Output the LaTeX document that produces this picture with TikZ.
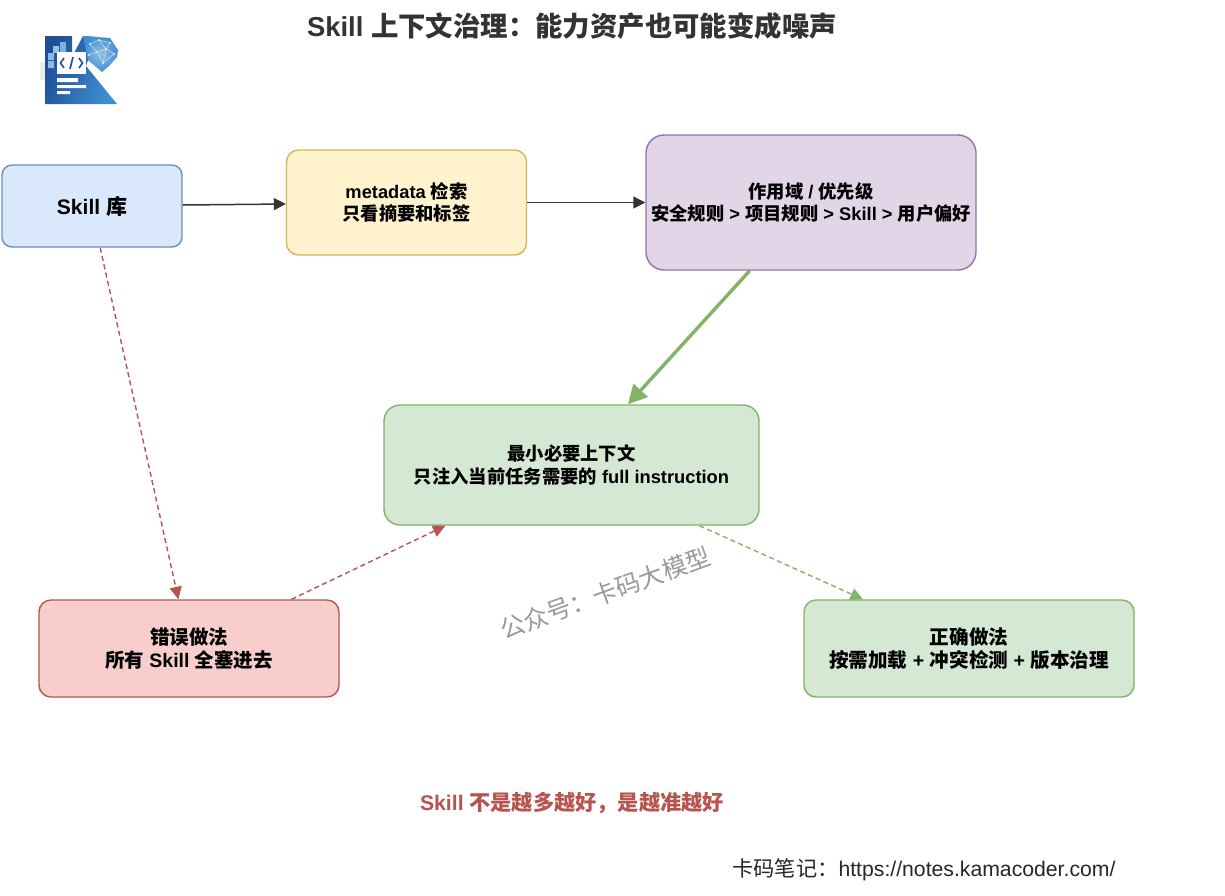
\documentclass[tikz,border=0pt]{standalone}
\usepackage{fontspec}
\setmainfont{Liberation Sans}
\newfontfamily\cjk{Noto Sans CJK SC}
\usetikzlibrary{arrows.meta,calc}
\newcommand{\zh}[1]{{\cjk #1}}
\definecolor{bluefill}{HTML}{DAE8FC}\definecolor{bluedraw}{HTML}{6C8EBF}
\definecolor{yelfill}{HTML}{FFF2CC}\definecolor{yeldraw}{HTML}{D6B656}
\definecolor{purfill}{HTML}{E1D5E7}\definecolor{purdraw}{HTML}{9673A6}
\definecolor{grnfill}{HTML}{D5E8D4}\definecolor{grndraw}{HTML}{82B366}
\definecolor{redfill}{HTML}{F8CECC}\definecolor{reddraw}{HTML}{B85450}
\definecolor{inkc}{HTML}{333333}
\definecolor{logoA}{HTML}{1F4E96}\definecolor{logoB}{HTML}{3F8FD2}
\tikzset{
  card/.style={draw=#1draw,fill=#1fill,line width=1.4pt,rounded corners=12pt,align=center,
    font=\fontsize{18.3}{22.5}\selectfont\bfseries,text=black,inner sep=0pt},
  solidarrow/.style={draw=inkc,line width=1.5pt,-{Triangle[length=12pt,width=12pt]}},
  wrongarrow/.style={draw=reddraw,line width=1.4pt,dash pattern=on 5pt off 3.5pt,-{Triangle[length=12.5pt,width=12pt]}},
  rightarrow/.style={draw=grndraw,line width=1.4pt,dash pattern=on 5pt off 3.5pt,-{Triangle[length=12.5pt,width=12pt]}},
  mainarrow/.style={draw=grndraw,line width=3.4pt,-{Triangle[length=19pt,width=19pt]}},
}
\begin{document}
\begin{tikzpicture}[x=1pt,y=-1pt]
\useasboundingbox (0,0) rectangle (1225,895);
\fill[white] (0,0) rectangle (1225,895);

\node[font=\fontsize{27.4}{30}\selectfont\bfseries,text=inkc] (title) at (572,26) {Skill \zh{上下文治理：能力资产也可能变成噪声}};

% logo
\begin{scope}
\fill[black!8] (40,62) rectangle (45,80);
\shade[left color=logoA,right color=logoB,shading angle=70] (45,36) -- (72,36) -- (72,57) -- (83,36) -- (97,37) -- (88,60) -- (86,66) -- (117,104) -- (45,104) -- cycle;
\fill[logoB!70!white] (60,42) rectangle (66,52);
\fill[logoB!55!white] (53,46) rectangle (59,53);
\fill[logoB!60!white] (48,53) rectangle (54,60) (48,61) rectangle (54,68);
\shade[inner color=logoB!55!white,outer color=logoB] (83,36) -- (97,37) -- (110,38) -- (118,50) -- (117,57) -- (110,65) -- (102,72) -- (88,60) -- cycle;
\foreach \a/\b/\c/\d in {90/44/99/40,99/40/110/43,90/44/97/52,97/52/106/49,106/49/110/43,97/52/103/63,106/49/103/63,97/52/89/55,99/40/106/49,106/49/114/54,103/63/114/54}{
  \draw[white!75!logoB,line width=.5pt] (\a,\b) -- (\c,\d);}
\foreach \a/\b in {90/44,99/40,110/43,97/52,106/49,103/63,89/55,114/54}{\fill[white!85!logoB] (\a,\b) circle (1.2);}
\fill[white] (57,52) rectangle (86,74);
\draw[logoA,line width=1.6pt] (64,58) -- (60.5,63) -- (64,68) (79,58) -- (82.5,63) -- (79,68);
\draw[logoA,line width=1.6pt] (73,57) -- (70,69);
\fill[white] (57,78) rectangle (78,82) (57,85) rectangle (86,88) (57,91) rectangle (70,94);
\end{scope}

\node[card=blue,minimum width=180pt,minimum height=82pt,font=\fontsize{21}{24}\selectfont\bfseries,rounded corners=10pt] (skill) at (92,206) {Skill \zh{库}};
\node[card=yel,minimum width=240pt,minimum height=105pt] (meta) at (406.5,202.5) {metadata \zh{检索}\\\zh{只看摘要和标签}};
\node[card=pur,minimum width=330pt,minimum height=135pt,rounded corners=18pt] (scope) at (811,202.5) {\zh{作用域} / \zh{优先级}\\\zh{安全规则} > \zh{项目规则} > Skill > \zh{用户偏好}};
\node[card=grn,minimum width=375pt,minimum height=120pt,rounded corners=16pt] (ctx) at (571.5,465) {\zh{最小必要上下文}\\\zh{只注入当前任务需要的} full instruction};
\node[card=red,minimum width=300pt,minimum height=97pt,font=\fontsize{19.5}{23.5}\selectfont\bfseries] (wrong) at (189,648.5) {\zh{错误做法}\\\zh{所有} Skill \zh{全塞进去}};
\node[card=grn,minimum width=330pt,minimum height=97pt,font=\fontsize{19.6}{23.5}\selectfont\bfseries] (right) at (969,648.5) {\zh{正确做法}\\\zh{按需加载} + \zh{冲突检测} + \zh{版本治理}};

\draw[solidarrow] (skill.east) ++(0,-1) -- ($(meta.west)+(0,1.5)$);
\draw[solidarrow] (meta.east) -- (scope.west);
\draw[mainarrow] ($(scope.south west)!0.315!(scope.south east)$) -- ($(ctx.north west)!0.65!(ctx.north east)$);
\draw[wrongarrow] ($(skill.south west)!0.545!(skill.south east)$) -- ($(wrong.north west)!0.465!(wrong.north east)$);
\draw[wrongarrow] ($(wrong.north west)!0.84!(wrong.north east)$) -- ($(ctx.south west)!0.165!(ctx.south east)$);
\draw[rightarrow] ($(ctx.south west)!0.84!(ctx.south east)$) -- ($(right.north west)!0.18!(right.north east)$);

\node[font=\fontsize{24.6}{28}\selectfont,text=black!40,rotate=20] (mark) at (605,593) {\zh{公众号：卡码大模型}};
\node[font=\fontsize{21.2}{24}\selectfont\bfseries,text=reddraw] (slogan) at (572,803) {Skill \zh{不是越多越好，是越准越好}};
\node[font=\fontsize{21.2}{24}\selectfont,text=black!85] (foot) at (924,870) {\zh{卡码笔记：}https://notes.kamacoder.com/};
\end{tikzpicture}
\end{document}
